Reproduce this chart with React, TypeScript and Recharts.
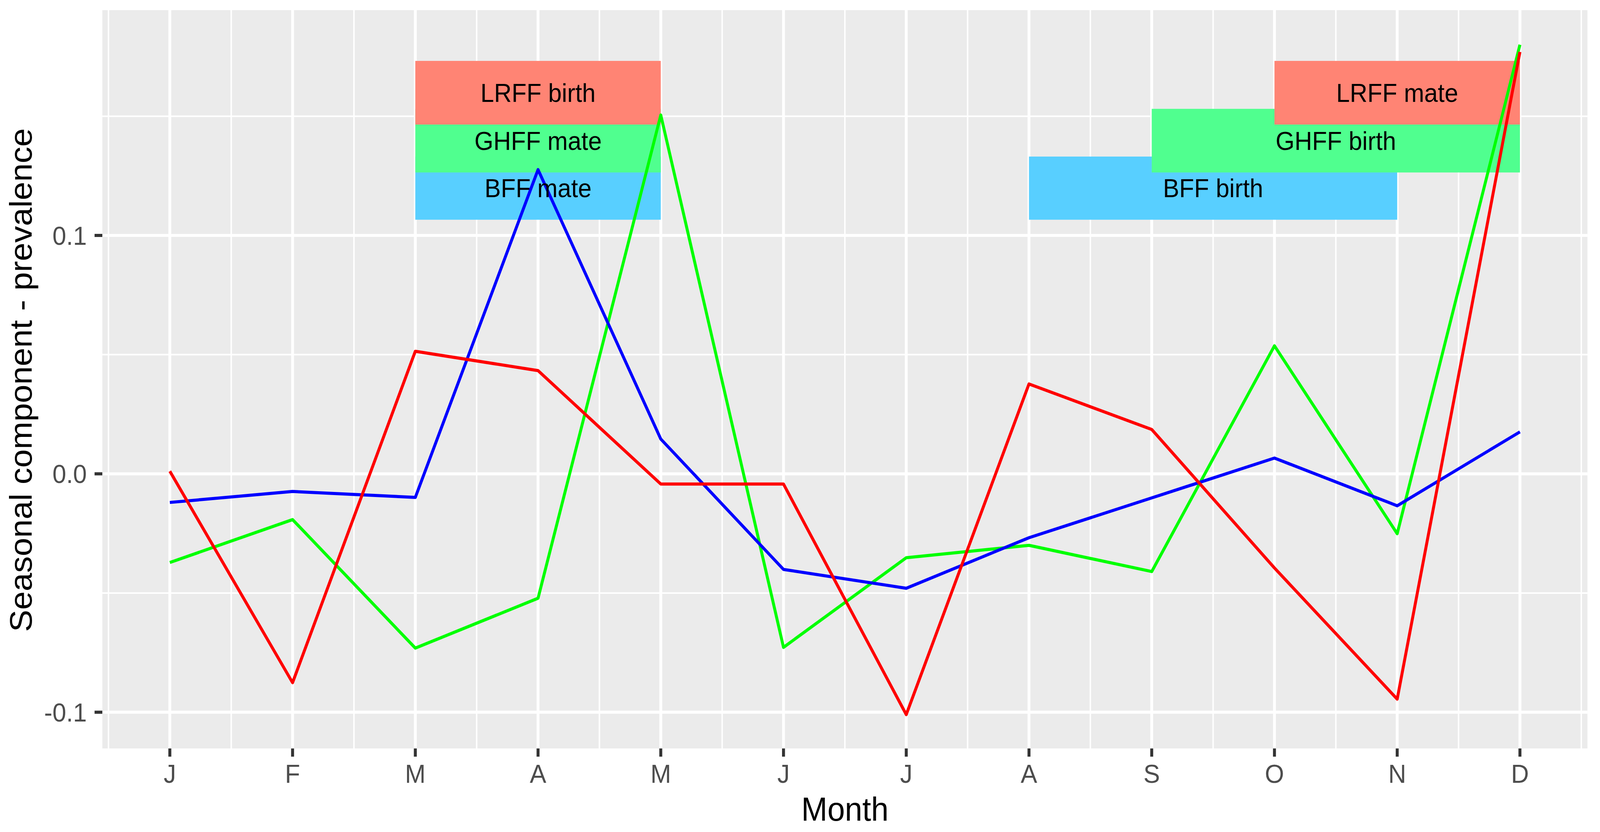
import React, { useEffect, useState } from 'react';
import {
  LineChart,
  Line,
  XAxis,
  YAxis,
  CartesianGrid,
  ReferenceArea,
} from 'recharts';

// ---- data ----
const monthLabels = ['J', 'F', 'M', 'A', 'M', 'J', 'J', 'A', 'S', 'O', 'N', 'D'];
const monthIndex = [1, 2, 3, 4, 5, 6, 7, 8, 9, 10, 11, 12];
const lrffValues = [0.0011, -0.0876, 0.0514, 0.0433, -0.0043, -0.0043, -0.101, 0.0377, 0.0186, -0.0395, -0.0945, 0.177];
const ghffValues = [-0.0372, -0.0192, -0.0731, -0.0522, 0.1505, -0.0728, -0.0352, -0.03, -0.041, 0.0537, -0.0251, 0.18];
const bffValues = [-0.012, -0.0074, -0.0099, 0.1276, 0.0146, -0.0401, -0.048, -0.0268, -0.0101, 0.0066, -0.0134, 0.0176];

const yTicks = [-0.1, 0, 0.1];
const yMinor = [-0.05, 0.05, 0.15];
const xMinor = [0.5, 1.5, 2.5, 3.5, 4.5, 5.5, 6.5, 7.5, 8.5, 9.5, 10.5, 11.5, 12.5];

const bandLabels = ['BFF mate', 'BFF birth', 'GHFF mate', 'GHFF birth', 'LRFF birth', 'LRFF mate'];
const bandSpecies = ['BFF', 'BFF', 'GHFF', 'GHFF', 'LRFF', 'LRFF'];
const bandStart = [3, 8, 3, 9, 3, 10];
const bandEnd = [5, 11, 5, 12, 5, 12];
const bandBottom = [0.1066, 0.1066, 0.1264, 0.1264, 0.1465, 0.1465];
const bandTop = [0.1331, 0.1331, 0.1531, 0.1531, 0.1732, 0.1732];

const speciesFill: Record<string, string> = {
  BFF: '#58CFFF',
  GHFF: '#50FF8F',
  LRFF: '#FF8474',
};

const data = monthIndex.map((m, i) => ({
  m,
  lrff: lrffValues[i],
  ghff: ghffValues[i],
  bff: bffValues[i],
}));

const FONT = "'Liberation Sans', Arial, Helvetica, sans-serif";
const W = 4331;
const H = 2131;

const XTitle = (props: any) => {
  const vb = props.viewBox || { x: 277, y: 1917, width: 4020, height: 214 };
  return (
    <text
      x={vb.x + vb.width / 2}
      y={vb.y + 185}
      textAnchor="middle"
      fontSize={85}
      fontFamily={FONT}
      fill="#000000"
    >
      Month
    </text>
  );
};

const YTitle = (props: any) => {
  const vb = props.viewBox || { x: 0, y: 26, width: 277, height: 1891 };
  const cx = 86;
  const cy = vb.y + vb.height / 2 + 2;
  return (
    <text
      x={cx}
      y={cy}
      transform={`rotate(-90, ${cx}, ${cy})`}
      textAnchor="middle"
      fontSize={85}
      fontFamily={FONT}
      fill="#000000"
    >
      Seasonal component - prevalence
    </text>
  );
};

const tickStyle = { fill: '#4D4D4D', fontSize: 67, fontFamily: FONT };
const tickLineStyle = { stroke: '#333333', strokeWidth: 8 };

export default function App() {
  const [vp, setVp] = useState({
    w: typeof window !== 'undefined' ? window.innerWidth : W,
    h: typeof window !== 'undefined' ? window.innerHeight : H,
  });
  useEffect(() => {
    document.body.style.margin = '0';
    document.documentElement.style.overflow = 'hidden';
    document.body.style.overflow = 'hidden';
    const upd = () => setVp({ w: window.innerWidth, h: window.innerHeight });
    upd();
    window.addEventListener('resize', upd);
    return () => window.removeEventListener('resize', upd);
  }, []);
  const sx = vp.w / W;
  const sy = vp.h / H;

  return (
    <div
      style={{
        position: 'fixed',
        left: 0,
        top: 0,
        width: W,
        height: H,
        background: '#FFFFFF',
        transform: `scale(${sx}, ${sy})`,
        transformOrigin: '0 0',
      }}
    >
      <LineChart
        width={W}
        height={H}
        data={data}
        margin={{ top: 26, right: 34, bottom: 0, left: 0 }}
      >
        <CartesianGrid
          fill="#EBEBEB"
          stroke="#FFFFFF"
          strokeWidth={4}
          horizontalValues={yMinor}
          verticalValues={xMinor}
        />
        <CartesianGrid
          stroke="#FFFFFF"
          strokeWidth={7.7}
          horizontalValues={yTicks}
          verticalValues={monthIndex}
        />
        <XAxis
          dataKey="m"
          type="number"
          domain={[0.45, 12.55]}
          ticks={monthIndex}
          interval={0}
          allowDataOverflow
          axisLine={false}
          tickLine={tickLineStyle}
          tickSize={21}
          tickMargin={19}
          height={214}
          tick={tickStyle}
          tickFormatter={(v: number) => monthLabels[v - 1]}
          label={<XTitle />}
        />
        <YAxis
          type="number"
          domain={[-0.1152, 0.1945]}
          ticks={yTicks}
          interval={0}
          allowDataOverflow
          axisLine={false}
          tickLine={tickLineStyle}
          tickSize={21}
          tickMargin={21}
          width={277}
          tick={tickStyle}
          tickFormatter={(v: number) => v.toFixed(1)}
          label={<YTitle />}
        />
        {bandLabels.map((lab, i) => (
          <ReferenceArea
            key={lab}
            x1={bandStart[i]}
            x2={bandEnd[i]}
            y1={bandBottom[i]}
            y2={bandTop[i]}
            fill={speciesFill[bandSpecies[i]]}
            fillOpacity={1}
            stroke="none"
            ifOverflow="visible"
            label={{
              value: lab,
              position: 'center',
              fill: '#000000',
              fontSize: 66,
              fontFamily: FONT,
            }}
          />
        ))}
        <Line
          dataKey="ghff"
          stroke="#00FF00"
          strokeWidth={8}
          dot={false}
          activeDot={false}
          isAnimationActive={false}
          strokeLinejoin="round"
          type="linear"
        />
        <Line
          dataKey="bff"
          stroke="#0000FF"
          strokeWidth={8}
          dot={false}
          activeDot={false}
          isAnimationActive={false}
          strokeLinejoin="round"
          type="linear"
        />
        <Line
          dataKey="lrff"
          stroke="#FF0000"
          strokeWidth={8}
          dot={false}
          activeDot={false}
          isAnimationActive={false}
          strokeLinejoin="round"
          type="linear"
        />
      </LineChart>
    </div>
  );
}
